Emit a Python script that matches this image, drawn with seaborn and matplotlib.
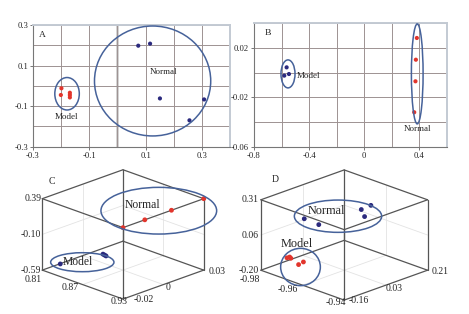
import numpy as np
import pandas as pd
import seaborn as sns
import matplotlib
matplotlib.use('Agg')
import matplotlib.pyplot as plt
from matplotlib.patches import Ellipse
from matplotlib.ticker import MultipleLocator
from mpl_toolkits.mplot3d import proj3d

# ---------------- data ----------------
# Panel A (2D PCA scores)
a_model_x = [-0.199, -0.201, -0.169, -0.169, -0.169]
a_model_y = [-0.012, -0.045, -0.034, -0.045, -0.057]
a_normal_x = [0.074, 0.116, 0.151, 0.308, 0.256]
a_normal_y = [0.198, 0.208, -0.062, -0.067, -0.170]
a_xticks = [-0.3, -0.1, 0.1, 0.3]
a_xticklabels = ['-0.3', '-0.1', '0.1', '0.3']
a_yticks = [0.3, 0.1, -0.1, -0.3]
a_yticklabels = ['0.3', '0.1', '-0.1', '-0.3']

# Panel B
b_model_x = [-0.563, -0.580, -0.546]
b_model_y = [0.0043, -0.0024, -0.0011]
b_normal_x = [0.383, 0.376, 0.373, 0.364]
b_normal_y = [0.0281, 0.0105, -0.0070, -0.0321]
b_xticks = [-0.8, -0.4, 0.0, 0.4]
b_xticklabels = ['-0.8', '-0.4', '0', '0.4']
b_yticks = [0.02, -0.02, -0.06]
b_yticklabels = ['0.02', '-0.02', '-0.06']

# Panel C (3D)
c_normal_x = [0.93, 0.93, 0.93, 0.93]
c_normal_y = [-0.020, -0.0065, 0.010, 0.030]
c_normal_z = [0.39, 0.39, 0.39, 0.39]
c_model_x = [0.8106, 0.822, 0.825, 0.828]
c_model_y = [-0.0091, 0.0126, 0.0123, 0.0120]
c_model_z = [-0.59, -0.59, -0.59, -0.59]
c_xlabels = ['0.81', '0.87', '0.93']
c_ylabels = ['-0.02', '0', '0.03']
c_zlabels = ['-0.59', '-0.10', '0.39']
c_lims = ((0.81, 0.93), (-0.02, 0.03), (-0.59, 0.39))

# Panel D (3D)
d_normal_x = [-0.9663, -0.9589, -0.9588, -0.9593, -0.9533]
d_normal_y = [-0.094, -0.098, 0.0898, 0.137, 0.0535]
d_normal_z = [0.208, 0.208, 0.208, 0.208, 0.208]
d_model_x = [-0.9773, -0.9772, -0.9761, -0.9700, -0.9706]
d_model_y = [-0.069, -0.058, -0.063, -0.085, -0.058]
d_model_z = [-0.149, -0.149, -0.149, -0.149, -0.149]
d_xlabels = ['-0.98', '-0.96', '-0.94']
d_ylabels = ['-0.16', '0.03', '0.21']
d_zlabels = ['-0.20', '0.06', '0.31']
d_lims = ((-0.98, -0.94), (-0.16, 0.21), (-0.20, 0.31))

# ---------------- style ----------------
sns.set_theme(style='white')
plt.rcParams['font.family'] = ['Liberation Serif', 'DejaVu Serif']

RED = '#e2352c'
BLUE = '#2b2a7e'
ELL = '#46629a'
GRID = '#9d9292'
W, H = 469, 314

fig = plt.figure(figsize=(W / 100, H / 100), dpi=100)
fig.patch.set_facecolor('white')


def style2d(ax, xlim, ylim, xt, xtl, yt, ytl, xminor, yminor):
    ax.set_xlim(*xlim)
    ax.set_ylim(*ylim)
    ax.set_xticks(xt)
    ax.set_xticklabels(xtl)
    ax.set_yticks(yt)
    ax.set_yticklabels(ytl)
    ax.xaxis.set_minor_locator(MultipleLocator(xminor))
    ax.yaxis.set_minor_locator(MultipleLocator(yminor))
    ax.grid(which='both', color=GRID, lw=0.7, zorder=0)
    ax.set_axisbelow(True)
    ax.tick_params(which='major', direction='out', length=2.5, width=0.6,
                   color='#606060', labelsize=6.2, pad=1, left=True, bottom=True)
    ax.tick_params(which='minor', length=0)
    ax.set_xlabel('')
    ax.set_ylabel('')
    for s in ['left', 'bottom']:
        ax.spines[s].set_color('#777777')
        ax.spines[s].set_linewidth(0.8)
    for s in ['top', 'right']:
        ax.spines[s].set_color('#c3cad3')
        ax.spines[s].set_linewidth(1.4)


# ---------------- 3D helpers ----------------
def proj_px(ax, x, y, z):
    xs, ys, _ = proj3d.proj_transform(np.atleast_1d(x), np.atleast_1d(y),
                                      np.atleast_1d(z), ax.get_proj())
    p = ax.transData.transform(np.column_stack([xs, ys]))[0]
    return p[0], H - p[1]


def make3d(rect, lims, zaspect):
    ax = fig.add_axes(rect, projection='3d', proj_type='ortho')
    ax.set_facecolor((1, 1, 1, 0))
    ax.patch.set_alpha(0)
    ax.view_init(elev=21, azim=-45)
    ax.set_box_aspect((1, 1, zaspect))
    ax.set_axis_off()
    ax.computed_zorder = False
    (x0, x1), (y0, y1), (z0, z1) = lims
    ec = '#555555'
    # box edges
    for y in (y0, y1):
        for z in (z0, z1):
            ax.plot([x0, x1], [y, y], [z, z], color=ec, lw=0.9, zorder=2)
    for x in (x0, x1):
        for z in (z0, z1):
            ax.plot([x, x], [y0, y1], [z, z], color=ec, lw=0.9, zorder=2)
    for x in (x0, x1):
        for y in (y0, y1):
            ax.plot([x, x], [y, y], [z0, z1], color=ec, lw=0.9, zorder=2)
    # faint grid on back panes
    xm, ym, zm = (x0 + x1) / 2, (y0 + y1) / 2, (z0 + z1) / 2
    gc = '#e3e3e3'
    ax.plot([x0, x0], [ym, ym], [z0, z1], color=gc, lw=0.6, zorder=1)
    ax.plot([x0, x0], [y0, y1], [zm, zm], color=gc, lw=0.6, zorder=1)
    ax.plot([xm, xm], [y1, y1], [z0, z1], color=gc, lw=0.6, zorder=1)
    ax.plot([x0, x1], [y1, y1], [zm, zm], color=gc, lw=0.6, zorder=1)
    ax.plot([xm, xm], [y0, y1], [z0, z0], color=gc, lw=0.6, zorder=1)
    ax.plot([x0, x1], [ym, ym], [z0, z0], color=gc, lw=0.6, zorder=1)
    return ax


def finish3d(ax, lims, span, center):
    (x0, x1), (y0, y1), (z0, z1) = lims
    ax.set_xlim(x0, x1)
    ax.set_ylim(y0, y1)
    ax.set_zlim(z0, z1)
    for _ in range(3):
        fig.canvas.draw()
        lx, _ = proj_px(ax, x0, y0, z0)
        rx, _ = proj_px(ax, x1, y1, z0)
        k = span / (rx - lx)
        pos = ax.get_position(original=True)
        cxp, cyp = pos.x0 + pos.width / 2, pos.y0 + pos.height / 2
        nw, nh = pos.width * k, pos.height * k
        ax.set_position([cxp - nw / 2, cyp - nh / 2, nw, nh])
        fig.canvas.draw()
        mx, my = proj_px(ax, (x0 + x1) / 2, (y0 + y1) / 2, (z0 + z1) / 2)
        dx = (center[0] - mx) / W
        dy = -(center[1] - my) / H
        pos = ax.get_position(original=True)
        ax.set_position([pos.x0 + dx, pos.y0 + dy, pos.width, pos.height])
    fig.canvas.draw()


def label3d(ax, pt, s, ha, va, dx, dy, fs=7):
    px, py = proj_px(ax, *pt)
    fig.text((px + dx) / W, 1 - (py + dy) / H, s, ha=ha, va=va, fontsize=fs, zorder=10)


def ticks3d(ax, lims, xl, yl, zl, xspec, yspec, zspec):
    (x0, x1), (y0, y1), (z0, z1) = lims
    xs = np.linspace(x0, x1, 3)
    ys = np.linspace(y0, y1, 3)
    zs = np.linspace(z0, z1, 3)
    for v, s, sp in zip(zs, zl, zspec):
        label3d(ax, (x0, y0, v), s, *sp)
    for v, s, sp in zip(xs, xl, xspec):
        label3d(ax, (v, y0, z0), s, *sp)
    for v, s, sp in zip(ys, yl, yspec):
        label3d(ax, (x1, v, z0), s, *sp)


def ell_px(cx, cy, w, h):
    fig.add_artist(Ellipse((cx / W, 1 - cy / H), w / W, h / H, fill=False,
                           ec=ELL, lw=1.1, transform=fig.transFigure, zorder=5))


# ---------------- Panel C ----------------
axC = make3d([0.02, 0.02, 0.4, 0.4], c_lims, 0.67)
axC.scatter(c_normal_x, c_normal_y, c_normal_z, color=RED, s=12, depthshade=False,
            edgecolors='none', zorder=6)
axC.scatter(c_model_x, c_model_y, c_model_z, color=BLUE, s=12, depthshade=False,
            edgecolors='none', zorder=6)

# ---------------- Panel D ----------------
axD = make3d([0.5, 0.02, 0.4, 0.4], d_lims, 0.64)
axD.scatter(d_normal_x, d_normal_y, d_normal_z, color=BLUE, s=12, depthshade=False,
            edgecolors='none', zorder=6)
axD.scatter(d_model_x, d_model_y, d_model_z, color=RED, s=12, depthshade=False,
            edgecolors='none', zorder=6)

# ---------------- Panel A ----------------
axA = fig.add_axes([33 / W, 1 - 146.7 / H, 197 / W, (146.7 - 25) / H])
dfA = pd.DataFrame({
    'x': a_model_x + a_normal_x,
    'y': a_model_y + a_normal_y,
    'group': ['Model'] * len(a_model_x) + ['Normal'] * len(a_normal_x)})
axA.axvline(0, color='#cfcfcf', lw=2.0, zorder=0.5)
sns.scatterplot(data=dfA, x='x', y='y', hue='group',
                palette={'Model': RED, 'Normal': BLUE}, s=9, edgecolor='none',
                legend=False, ax=axA, zorder=3)
style2d(axA, (-0.3, 0.4), (-0.3, 0.3), a_xticks, a_xticklabels,
        a_yticks, a_yticklabels, 0.1, 0.1)
axA.add_patch(Ellipse((-0.179, -0.039), 0.087, 0.16, fill=False, ec=ELL, lw=1.1, zorder=4))
axA.add_patch(Ellipse((0.125, 0.024), 0.413, 0.542, fill=False, ec=ELL, lw=1.1, zorder=4))
axA.text(-0.182, -0.155, 'Model', ha='center', va='center', fontsize=6.5)
axA.text(0.162, 0.067, 'Normal', ha='center', va='center', fontsize=6.5)
axA.text(0.03, 0.92, 'A', transform=axA.transAxes, ha='left', va='center', fontsize=6.8)

# ---------------- Panel B ----------------
axB = fig.add_axes([254 / W, 1 - 146.7 / H, 192.7 / W, (146.7 - 23.3) / H])
dfB = pd.DataFrame({
    'x': b_model_x + b_normal_x,
    'y': b_model_y + b_normal_y,
    'group': ['Model'] * len(b_model_x) + ['Normal'] * len(b_normal_x)})
sns.scatterplot(data=dfB, x='x', y='y', hue='group',
                palette={'Model': BLUE, 'Normal': RED}, s=9, edgecolor='none',
                legend=False, ax=axB, zorder=3)
style2d(axB, (-0.8, 0.6), (-0.06, 0.04), b_xticks, b_xticklabels,
        b_yticks, b_yticklabels, 0.2, 0.02)
axB.add_patch(Ellipse((-0.553, -0.001), 0.102, 0.0227, fill=False, ec=ELL, lw=1.1, zorder=4))
axB.add_patch(Ellipse((0.386, -0.001), 0.085, 0.081, fill=False, ec=ELL, lw=1.1, zorder=4))
axB.text(-0.49, -0.003, 'Model', ha='left', va='center', fontsize=6.5)
axB.text(0.388, -0.0456, 'Normal', ha='center', va='center', fontsize=6.5)
axB.text(0.055, 0.92, 'B', transform=axB.transAxes, ha='left', va='center', fontsize=6.8)

# ---------------- 3D fitting and annotations ----------------
finish3d(axC, c_lims, 161.5, (123.0, 234.4))
finish3d(axD, d_lims, 166.7, (344.2, 235.0))

ticks3d(axC, c_lims, c_xlabels, c_ylabels, c_zlabels,
        [('right', 'top', 0, 5), ('right', 'top', -4, -2), ('center', 'center', -4, 2)],
        [('left', 'center', 11, 0), ('left', 'top', 2.5, -2), ('left', 'center', 5, 1.5)],
        [('right', 'center', -1, 0), ('right', 'center', -1, 0), ('right', 'center', -1, 0)])
ell_px(158.8, 210.7, 115.7, 46.7)
ell_px(82.3, 262.2, 63.3, 19.0)
fig.text(142.5 / W, 1 - 205 / H, 'Normal', ha='center', va='center', fontsize=8.4)
fig.text(77.5 / W, 1 - 262 / H, 'Model', ha='center', va='center', fontsize=8.4)
fig.text(51.7 / W, 1 - 181 / H, 'C', ha='center', va='center', fontsize=7)

ticks3d(axD, d_lims, d_xlabels, d_ylabels, d_zlabels,
        [('right', 'top', -1, 5), ('right', 'top', -4.5, 0), ('center', 'center', -8, 2)],
        [('left', 'center', 4, 0), ('left', 'top', 0, -1), ('left', 'center', 4, 1.7)],
        [('right', 'center', -2, 0), ('right', 'center', -2, 1), ('right', 'center', -2, 0)])
ell_px(338.0, 216.2, 87.3, 32.3)
ell_px(300.5, 267.0, 39.7, 37.3)
fig.text(326.7 / W, 1 - 210.7 / H, 'Normal', ha='center', va='center', fontsize=8.8)
fig.text(297.2 / W, 1 - 244 / H, 'Model', ha='center', va='center', fontsize=8.8)
fig.text(275 / W, 1 - 180 / H, 'D', ha='center', va='center', fontsize=7)

fig.savefig('out.png', dpi=100)
